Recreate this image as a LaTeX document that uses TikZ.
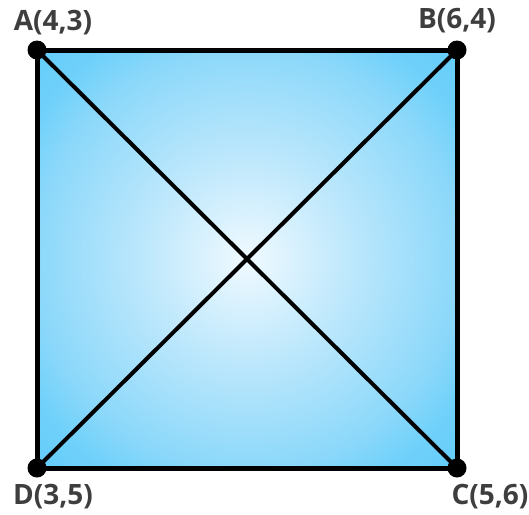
\documentclass[tikz,border=0pt]{standalone}
\usepackage{fontspec}
\setmainfont{Open Sans}
\usepackage{tikz}
\usetikzlibrary{positioning, calc}
\definecolor{squaresky}{RGB}{100, 205, 250}
\definecolor{squareouter}{RGB}{112, 209, 250}
\definecolor{squaremid}{RGB}{140, 216, 250}
\definecolor{squareinner}{RGB}{190, 232, 252}
\definecolor{squarecore}{RGB}{236, 248, 255}
\definecolor{labelgray}{RGB}{62, 62, 62}
% radius scaled to the half diagonal of the square
\pgfdeclareradialshading{squareglow}{\pgfpoint{0bp}{0bp}}{%
  color(0bp)=(squarecore); color(1bp)=(squarecore);
  color(12bp)=(squareinner); color(25bp)=(squaremid);
  color(30bp)=(squareouter); color(35bp)=(squaresky); color(50bp)=(squaresky)}
\tikzset{
  vertexlabel/.style={text=labelgray, font=\fontsize{28}{30}\selectfont\bfseries, inner sep=0pt},
  vertexdot/.style={fill=black},
}

\begin{document}
\begin{tikzpicture}[x=1pt, y=-1pt]
        \useasboundingbox (0,0) rectangle (529,514);
        % Corners
        \coordinate (A) at (37,50);
        \coordinate (B) at (457,50);
        \coordinate (C) at (457,468);
        \coordinate (D) at (37,468);

        % Shaded square
        \shade[shading=squareglow] (A) -- (B) -- (C) -- (D) -- cycle;
        \draw[line width=5pt, line join=miter] (A) -- (B) -- (C) -- (D) -- cycle;

        % Diagonals
        \draw[line width=4pt] (A) -- (C);
        \draw[line width=4pt] (B) -- (D);

        % Vertices
        \foreach \p in {A,B,C,D}
            \fill[vertexdot] (\p) circle (9.5pt);

        % Labels
        \node[vertexlabel] (labelA) at (53,23) {A(4,3)};
        \node[vertexlabel] (labelB) at (457,21) {B(6,4)};
        \node[vertexlabel] (labelC) at (490,497) {C(5,6)};
        \node[vertexlabel] (labelD) at (53,497) {D(3,5)};
    \end{tikzpicture}
\end{document}
